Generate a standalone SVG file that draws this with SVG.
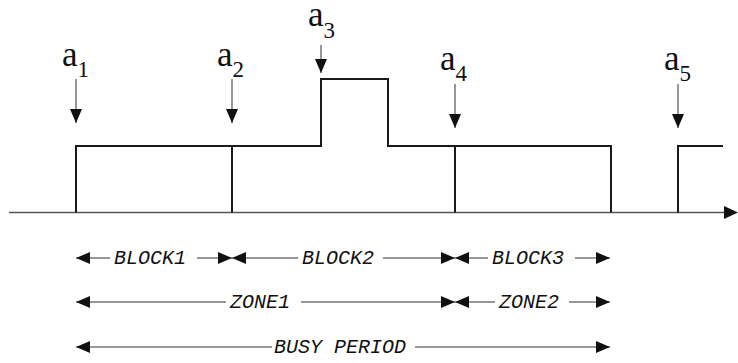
<svg xmlns="http://www.w3.org/2000/svg" width="738" height="363" viewBox="0 0 738 363">
<style>
.sig{fill:none;stroke:#1a1a1a;stroke-width:2;stroke-linejoin:miter}
.axis{stroke:#555;stroke-width:1.6}
.shaft{stroke:#444;stroke-width:1.1}
.dim{stroke:#333;stroke-width:1.1}
.lbl{font-size:35px;fill:#111}
.sub{font-size:23px}
.dl{font-style:italic;font-size:20px;fill:#111}
.head{fill:#111}
</style>
<defs>
<marker id="ah" viewBox="0 0 14 12" refX="14" refY="6" markerWidth="14" markerHeight="12" markerUnits="userSpaceOnUse" orient="auto">
<path d="M0,0 L14,6 L0,12 Z" class="head"/>
</marker>
</defs>

<g id="axis">
<line class="axis" x1="9" y1="212.5" x2="726" y2="212.5"/>
<path class="head" d="M724,206 L738,212.5 L724,219 Z"/>
</g>

<g id="signal">
<path class="sig" d="M76,212.5 V146 H321 V79 H388 V146 H611 V212.5"/>
<path class="sig" d="M232,146 V212.5"/>
<path class="sig" d="M455,146 V212.5"/>
<path class="sig" d="M678,212.5 V146 H723"/>
</g>

<g id="arrivals" font-family="'Liberation Serif', 'Times New Roman', 'DejaVu Serif', serif">
<g id="a1">
<text class="lbl" x="62" y="66">a<tspan class="sub" dy="11">1</tspan></text>
<line class="shaft" x1="76" y1="79" x2="76" y2="123" marker-end="url(#ah)"/>
</g>
<g id="a2">
<text class="lbl" x="217" y="66">a<tspan class="sub" dy="11">2</tspan></text>
<line class="shaft" x1="232" y1="79" x2="232" y2="123" marker-end="url(#ah)"/>
</g>
<g id="a3">
<text class="lbl" x="308" y="26">a<tspan class="sub" dy="12">3</tspan></text>
<line class="shaft" x1="321" y1="45" x2="321" y2="73" marker-end="url(#ah)"/>
</g>
<g id="a4">
<text class="lbl" x="440" y="70">a<tspan class="sub" dy="11">4</tspan></text>
<line class="shaft" x1="455" y1="84" x2="455" y2="128" marker-end="url(#ah)"/>
</g>
<g id="a5">
<text class="lbl" x="664" y="70">a<tspan class="sub" dy="11">5</tspan></text>
<line class="shaft" x1="678" y1="84" x2="678" y2="128" marker-end="url(#ah)"/>
</g>
</g>

<g id="connectors">
<line class="dim" x1="110" y1="258" x2="76" y2="258" marker-end="url(#ah)"/>
<line class="dim" x1="197" y1="258" x2="232" y2="258" marker-end="url(#ah)"/>
<line class="dim" x1="298" y1="258" x2="232" y2="258" marker-end="url(#ah)"/>
<line class="dim" x1="383" y1="258" x2="455" y2="258" marker-end="url(#ah)"/>
<line class="dim" x1="488" y1="258" x2="455" y2="258" marker-end="url(#ah)"/>
<line class="dim" x1="575" y1="258" x2="610" y2="258" marker-end="url(#ah)"/>
<line class="dim" x1="226" y1="302" x2="76" y2="302" marker-end="url(#ah)"/>
<line class="dim" x1="301" y1="302" x2="455" y2="302" marker-end="url(#ah)"/>
<line class="dim" x1="495" y1="302" x2="455" y2="302" marker-end="url(#ah)"/>
<line class="dim" x1="569" y1="302" x2="610" y2="302" marker-end="url(#ah)"/>
<line class="dim" x1="272" y1="347" x2="76" y2="347" marker-end="url(#ah)"/>
<line class="dim" x1="415" y1="347" x2="610" y2="347" marker-end="url(#ah)"/>
</g>

<g id="labels" font-family="'Liberation Mono', 'Courier New', monospace">
<text id="block1" class="dl" x="114" y="264">BLOCK1</text>
<text id="block2" class="dl" x="302" y="264">BLOCK2</text>
<text id="block3" class="dl" x="492" y="264">BLOCK3</text>
<text id="zone1" class="dl" x="230" y="308">ZONE1</text>
<text id="zone2" class="dl" x="499" y="308">ZONE2</text>
<text id="busy" class="dl" x="274" y="353">BUSY PERIOD</text>
</g>
</svg>
